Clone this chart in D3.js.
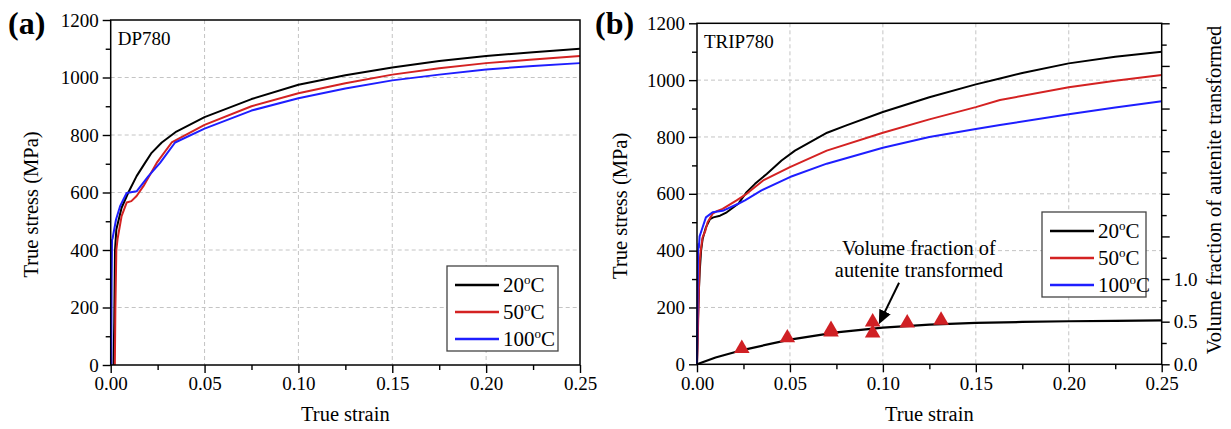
<!DOCTYPE html>
<html>
<head>
<meta charset="utf-8">
<script src="https://cdn.jsdelivr.net/npm/d3@7"></script>
<style>
body { margin: 0; background: #fff; }
svg text { font-family: "Liberation Serif", "Times New Roman", serif; fill: #000; }
.grid line { stroke: #c4c4c4; stroke-dasharray: 4,3; stroke-width: 1; }
.axis line { stroke: #000; stroke-width: 1.4; }
.axis text { font-size: 19px; font-family: "Liberation Serif", "Times New Roman", serif; }
</style>
</head>
<body>
<svg id="chart" width="1231" height="429"></svg>
<script>
// ---- data ----
var strainTicks = [0, 0.05, 0.10, 0.15, 0.20, 0.25];
var strainMinor = [0.025, 0.075, 0.125, 0.175, 0.225];
var stressTicks = [0, 200, 400, 600, 800, 1000, 1200];
var stressMinor = [100, 300, 500, 700, 900, 1100];
var fractionTicks = [0, 0.5, 1.0, 1.5, 2.0, 2.5, 3.0, 3.5, 4.0];
var fractionLabelled = [0, 0.5, 1.0];
var tempLabels = ["20", "50", "100"];
var lineColors = ["#000000", "#d42222", "#1e1eff"];

// DP780, [true strain, true stress MPa]
var dp780_20 = [[0.0015,0],[0.0019,150],[0.0023,400],[0.003,471],[0.0058,547],[0.0094,600],[0.0138,657],
  [0.0183,703],[0.0218,738],[0.0272,774],[0.035,812],[0.05,862],[0.075,925],[0.1,975],[0.125,1008],
  [0.15,1035],[0.175,1057],[0.2,1075],[0.225,1088],[0.25,1100]];
var dp780_50 = [[0.0022,0],[0.0025,200],[0.003,400],[0.0037,440],[0.0058,518],[0.0085,565],[0.011,570],
  [0.0138,588],[0.0175,623],[0.0245,703],[0.0325,774],[0.05,835],[0.075,900],[0.1,945],[0.125,980],
  [0.15,1010],[0.175,1032],[0.2,1050],[0.225,1063],[0.25,1075]];
var dp780_100 = [[0.0003,0],[0.0005,300],[0.0007,435],[0.001,440],[0.0028,505],[0.005,552],[0.0067,575],
  [0.0085,598],[0.0138,604],[0.02,656],[0.0263,703],[0.0343,774],[0.05,822],[0.075,885],[0.1,928],
  [0.125,962],[0.15,990],[0.175,1010],[0.2,1028],[0.225,1040],[0.25,1050]];

// TRIP780
var trip780_20 = [[0,0],[0.0005,150],[0.001,260],[0.0015,330],[0.0022,400],[0.003,440],[0.0048,482],
  [0.007,511],[0.0088,517],[0.0124,523],[0.016,535],[0.0222,565],[0.0267,606],[0.0312,635],[0.0375,670],
  [0.0455,717],[0.0527,752],[0.07,815],[0.08,840],[0.1,888],[0.125,940],[0.15,985],[0.163,1006],
  [0.175,1025],[0.2,1059],[0.225,1082],[0.25,1100]];
var trip780_50 = [[0,0],[0.0003,60],[0.0008,200],[0.0012,300],[0.0015,365],[0.002,400],[0.003,447],
  [0.0045,470],[0.0057,500],[0.0084,530],[0.011,540],[0.0138,547],[0.0213,577],[0.0267,600],[0.0356,647],
  [0.05,694],[0.0698,752],[0.1,815],[0.125,862],[0.15,905],[0.163,930],[0.2,975],[0.225,998],[0.25,1018]];
var trip780_100 = [[0,0],[0.0003,250],[0.0006,400],[0.0008,423],[0.001,410],[0.0014,450],[0.0024,470],
  [0.0048,517],[0.0084,535],[0.0138,540],[0.0222,565],[0.0258,577],[0.0347,612],[0.05,659],[0.0698,706],
  [0.1,762],[0.125,800],[0.15,828],[0.163,842],[0.2,880],[0.225,904],[0.25,926]];

// volume fraction of austenite transformed (right axis)
var fractionFit = [[0,0],[0.01,0.08],[0.025,0.17],[0.05,0.29],[0.075,0.375],[0.1,0.43],[0.125,0.465],
  [0.15,0.485],[0.175,0.497],[0.2,0.505],[0.225,0.51],[0.25,0.515]];
var fractionPoints = [[0.0241,0.186],[0.0486,0.31],[0.0721,0.408],[0.0721,0.38],[0.0945,0.497],
  [0.0945,0.368],[0.1131,0.485],[0.1313,0.516]];

var svg = d3.select("#chart");

function drawPanel(p) {
  var x = d3.scaleLinear().domain([0, 0.25]).range([p.left, p.right]);
  var y = d3.scaleLinear().domain([0, 1200]).range([p.bottom, p.top]);
  var g = svg.append("g");

  // dashed grid
  var grid = g.append("g").attr("class", "grid");
  grid.selectAll(".gx").data(strainTicks.slice(1, -1)).enter().append("line")
    .attr("x1", d => x(d)).attr("x2", d => x(d)).attr("y1", p.top).attr("y2", p.bottom);
  grid.selectAll(".gy").data(stressTicks.slice(1, -1)).enter().append("line")
    .attr("y1", d => y(d)).attr("y2", d => y(d)).attr("x1", p.left).attr("x2", p.right);

  // axes
  g.append("g").attr("class", "axis").attr("transform", `translate(0,${p.bottom})`)
    .call(d3.axisBottom(x).tickValues(strainTicks).tickFormat(d3.format(".2f")).tickSize(8).tickPadding(4));
  g.append("g").attr("class", "axis").attr("transform", `translate(0,${p.bottom})`)
    .call(d3.axisBottom(x).tickValues(strainMinor).tickFormat("").tickSize(5));
  g.append("g").attr("class", "axis").attr("transform", `translate(${p.left},0)`)
    .call(d3.axisLeft(y).tickValues(stressTicks).tickFormat(d3.format("d")).tickSize(8).tickPadding(4));
  g.append("g").attr("class", "axis").attr("transform", `translate(${p.left},0)`)
    .call(d3.axisLeft(y).tickValues(stressMinor).tickFormat("").tickSize(5));
  g.selectAll(".axis .domain").remove();

  // curves
  var line = d3.line().x(d => x(d[0])).y(d => y(d[1]));
  p.series.forEach(function(s, i) {
    g.append("path").datum(s).attr("d", line)
      .attr("fill", "none").attr("stroke", lineColors[i]).attr("stroke-width", 2)
      .attr("stroke-linejoin", "round");
  });

  // frame
  g.append("rect").attr("x", p.left).attr("y", p.top)
    .attr("width", p.right - p.left).attr("height", p.bottom - p.top)
    .attr("fill", "none").attr("stroke", "#000").attr("stroke-width", 1.5);

  // legend
  var lg = g.append("g").attr("transform", `translate(${p.legX},${p.legY})`);
  lg.append("rect").attr("width", p.legW).attr("height", 85)
    .attr("fill", "#fff").attr("stroke", "#444").attr("stroke-width", 1.3);
  tempLabels.forEach(function(t, i) {
    var ry = 19 + i * 27;
    lg.append("line").attr("x1", 8).attr("x2", 52).attr("y1", ry).attr("y2", ry)
      .attr("stroke", lineColors[i]).attr("stroke-width", 2.5);
    var tx = lg.append("text").attr("x", 56).attr("y", ry + 7).attr("font-size", 21);
    tx.append("tspan").text(t);
    tx.append("tspan").attr("dy", -8).attr("font-size", 13).text("o");
    tx.append("tspan").attr("dy", 8).text("C");
  });

  // labels
  g.append("text").attr("x", p.left + 7).attr("y", p.top + 25).attr("font-size", 19).text(p.name);
  g.append("text").attr("x", p.tagX).attr("y", 34).attr("font-size", 32).attr("font-weight", "bold").text(p.tag);
  g.append("text").attr("x", (p.left + p.right) / 2).attr("y", 421).attr("text-anchor", "middle")
    .attr("font-size", 20.5).text("True strain");
  g.append("text").attr("transform", `translate(${p.yTitleX},${(p.top + p.bottom) / 2 + 12}) rotate(-90)`)
    .attr("text-anchor", "middle").attr("font-size", 20.5).text("True stress (MPa)");

  return { g: g, x: x, y: y };
}

drawPanel({ left: 110.7, right: 580, top: 20, bottom: 365, name: "DP780", tag: "(a)", tagX: 8,
  yTitleX: 38, legX: 447, legY: 266, legW: 111, series: [dp780_20, dp780_50, dp780_100] });

var pb = drawPanel({ left: 697, right: 1161.7, top: 23.3, bottom: 364.3, name: "TRIP780", tag: "(b)", tagX: 595,
  yTitleX: 627, legX: 1042, legY: 212, legW: 104, series: [trip780_20, trip780_50, trip780_100] });

// right axis: volume fraction
var yF = d3.scaleLinear().domain([0, 4]).range([364.3, 23.3]);
pb.g.append("g").attr("class", "axis").attr("transform", "translate(1161.7,0)")
  .call(d3.axisRight(yF).tickValues(fractionTicks).tickSize(8).tickPadding(4)
    .tickFormat(d => fractionLabelled.indexOf(d) >= 0 ? d3.format(".1f")(d) : ""));
pb.g.append("g").attr("class", "axis").attr("transform", "translate(1161.7,0)")
  .call(d3.axisRight(yF).tickValues(d3.range(0.25, 4, 0.5)).tickFormat("").tickSize(5));
pb.g.selectAll(".axis .domain").remove();
pb.g.append("text").attr("transform", "translate(1221,190) rotate(-90)").attr("text-anchor", "middle")
  .attr("font-size", 20.5).text("Volume fraction of autenite transformed");

var fitLine = d3.line().x(d => pb.x(d[0])).y(d => yF(d[1]));
pb.g.append("path").datum(fractionFit).attr("d", fitLine)
  .attr("fill", "none").attr("stroke", "#000").attr("stroke-width", 2.2);

pb.g.selectAll(".tri").data(fractionPoints).enter().append("path")
  .attr("d", d3.symbol().type(d3.symbolTriangle).size(105))
  .attr("transform", d => `translate(${pb.x(d[0])},${yF(d[1])})`)
  .attr("fill", "#d02024");

// annotation arrow + text
var defs = svg.append("defs");
defs.append("marker").attr("id", "arr").attr("viewBox", "0 0 10 10").attr("refX", 8).attr("refY", 5)
  .attr("markerWidth", 7).attr("markerHeight", 7).attr("orient", "auto")
  .append("path").attr("d", "M0,0.5 L10,5 L0,9.5 z").attr("fill", "#000");
pb.g.append("line")
  .attr("x1", pb.x(0.1087)).attr("y1", yF(0.956))
  .attr("x2", pb.x(0.0985)).attr("y2", yF(0.50))
  .attr("stroke", "#000").attr("stroke-width", 2).attr("marker-end", "url(#arr)");
var note = pb.g.append("text").attr("text-anchor", "middle").attr("font-size", 20.4);
note.append("tspan").attr("x", pb.x(0.1194)).attr("y", pb.y(385)).text("Volume fraction of");
note.append("tspan").attr("x", pb.x(0.1194)).attr("y", pb.y(307)).text("autenite transformed");
</script>
</body>
</html>
